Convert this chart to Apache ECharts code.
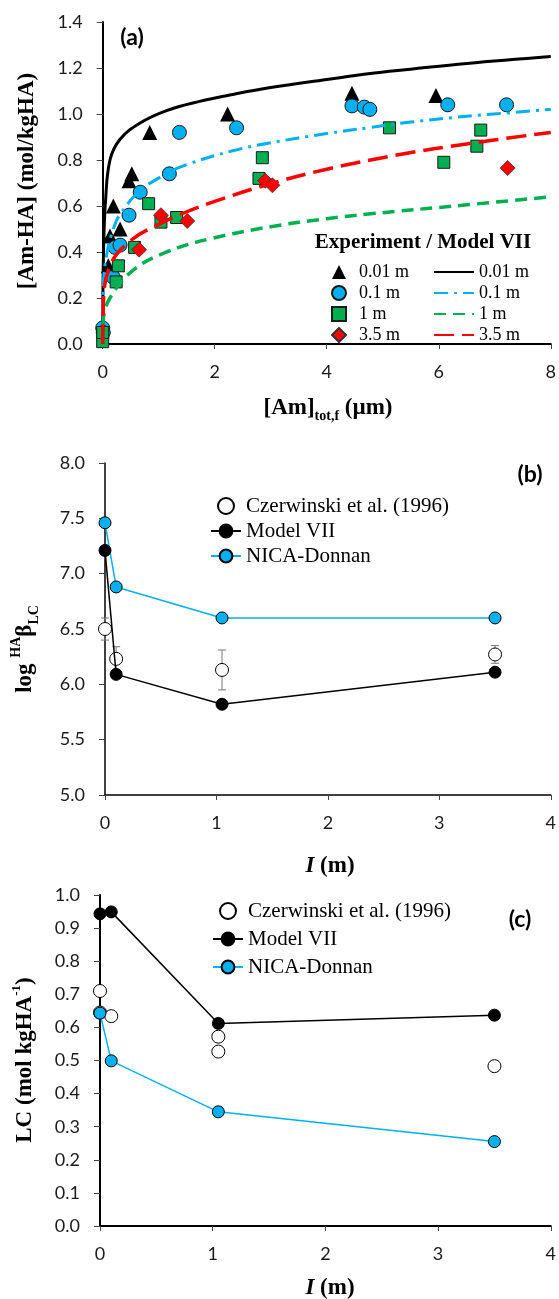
<!DOCTYPE html>
<html>
<head>
<meta charset="utf-8">
<script src="https://cdn.jsdelivr.net/npm/echarts@6/dist/echarts.min.js"></script>
<style>
html, body { margin: 0; padding: 0; background: #fff; }
#main { width: 559px; height: 1299px; }
</style>
</head>
<body>
<div id="main"></div>
<script>
// panel (a): experiment points [Am]tot,f (um) vs [Am-HA] (mol/kgHA)
var exp001 = [[0.01, 0.08], [0.1, 0.34], [0.13, 0.47], [0.19, 0.6], [0.31, 0.5], [0.47, 0.71], [0.52, 0.74], [0.84, 0.92], [2.23, 1.0], [4.45, 1.09], [5.95, 1.08]];
var exp01 = [[0, 0.07], [0.01, 0.05], [0.19, 0.29], [0.22, 0.42], [0.31, 0.43], [0.47, 0.56], [0.67, 0.66], [1.19, 0.74], [1.37, 0.92], [2.39, 0.94], [4.45, 1.035], [4.67, 1.03], [4.77, 1.02], [6.16, 1.04], [7.21, 1.04]];
var exp1 = [[0, 0.01], [0, 0.05], [0.24, 0.27], [0.28, 0.34], [0.57, 0.42], [0.82, 0.61], [1.04, 0.53], [1.32, 0.55], [2.79, 0.72], [2.85, 0.81], [5.12, 0.94], [6.09, 0.79], [6.68, 0.86], [6.75, 0.93]];
var exp35 = [[0.65, 0.41], [1.04, 0.56], [1.51, 0.535], [2.9, 0.71], [3.03, 0.69], [7.23, 0.765]];

// panel (a): Model VII curves
var mod001 = [[0, 0], [0.005, 0.25], [0.02, 0.45], [0.05, 0.62], [0.13, 0.8], [0.31, 0.89], [0.66, 0.96], [1.14, 1.015], [1.73, 1.055], [2.32, 1.085], [3.0, 1.115], [4.0, 1.15], [4.74, 1.175], [5.5, 1.195], [6.5, 1.22], [8, 1.25]];
var mod01 = [[0, 0], [0.01, 0.25], [0.08, 0.4], [0.19, 0.5], [0.3, 0.56], [0.66, 0.665], [1.1, 0.735], [1.5, 0.78], [2.32, 0.84], [3.0, 0.875], [4.0, 0.915], [4.74, 0.94], [5.5, 0.965], [6.5, 0.99], [8, 1.02]];
var mod1 = [[0, 0], [0.01, 0.1], [0.13, 0.2], [0.54, 0.32], [1.14, 0.4], [1.96, 0.46], [3.0, 0.51], [4.0, 0.545], [4.74, 0.565], [6.5, 0.605], [8, 0.64]];
var mod35 = [[0, 0], [0.01, 0.16], [0.13, 0.34], [0.5, 0.45], [1.0, 0.52], [1.5, 0.575], [2.0, 0.62], [2.9, 0.69], [4.0, 0.76], [5.33, 0.825], [6.5, 0.87], [8, 0.92]];

// panel (b): log beta vs I (m)
var czerB = [[0, 6.5], [0.1, 6.23], [1.05, 6.13], [3.5, 6.27]];
var czerBErr = [[0, 6.4, 6.6], [0.1, 6.12, 6.34], [1.05, 5.95, 6.31], [3.5, 6.19, 6.35]];
var modelB = [[0, 7.21], [0.1, 6.09], [1.05, 5.82], [3.5, 6.11]];
var nicaB = [[0, 7.46], [0.1, 6.88], [1.05, 6.6], [3.5, 6.6]];

// panel (c): LC vs I (m)
var czerC = [[0, 0.71], [0, 0.645], [0.1, 0.634], [1.05, 0.572], [1.05, 0.527], [3.5, 0.483]];
var modelC = [[0, 0.943], [0.1, 0.949], [1.05, 0.612], [3.5, 0.637]];
var nicaC = [[0, 0.643], [0.1, 0.499], [1.05, 0.345], [3.5, 0.255]];

var serif = '"Liberation Serif", "Times New Roman", serif';
var sans = 'Lato, "Open Sans", sans-serif';

function makeX(idx, max, interval, lw) {
    return {
        type: 'value', gridIndex: idx, min: 0, max: max, interval: interval,
        axisLine: {onZero: false, lineStyle: {color: '#000', width: lw}},
        axisTick: {inside: false, length: 5, lineStyle: {color: '#444'}},
        axisLabel: {fontFamily: sans, fontSize: 18, color: '#1a1a1a', margin: 19},
        splitLine: {show: false}
    };
}
function makeY(idx, min, max, interval, lw) {
    return {
        type: 'value', gridIndex: idx, min: min, max: max, interval: interval,
        axisLine: {show: true, onZero: false, lineStyle: {color: '#000', width: lw}},
        axisTick: {show: true, inside: false, length: 6, lineStyle: {color: '#444'}},
        axisLabel: {fontFamily: sans, fontSize: 18, color: '#1a1a1a', margin: 20,
            formatter: function (v) { return v.toFixed(1); }},
        splitLine: {show: false}
    };
}

function errorBars(xi, yi, data) {
    return {
        type: 'custom', name: 'err' + xi, xAxisIndex: xi, yAxisIndex: yi, z: 1,
        data: data,
        renderItem: function (params, api) {
            var lo = api.coord([api.value(0), api.value(1)]);
            var hi = api.coord([api.value(0), api.value(2)]);
            var st = {stroke: '#777', lineWidth: 1};
            return {type: 'group', children: [
                {type: 'line', shape: {x1: lo[0], y1: lo[1], x2: hi[0], y2: hi[1]}, style: st},
                {type: 'line', shape: {x1: lo[0] - 4, y1: lo[1], x2: lo[0] + 4, y2: lo[1]}, style: st},
                {type: 'line', shape: {x1: hi[0] - 4, y1: hi[1], x2: hi[0] + 4, y2: hi[1]}, style: st}
            ]};
        }
    };
}

var stripName = function (n) { return n.replace(/^\w+ /, ''); };

var myChart = echarts.init(document.getElementById('main'));

var option = {
    animation: false,
    backgroundColor: '#fff',
    grid: [
        {left: 102.7, top: 22, width: 450.3, height: 322},
        {left: 105, top: 463, width: 448, height: 332},
        {left: 100, top: 895, width: 453.5, height: 331}
    ],
    xAxis: [makeX(0, 8, 2, 2), makeX(1, 4, 1, 1.5), makeX(2, 4, 1, 2)],
    yAxis: [makeY(0, 0, 1.4, 0.2, 2), makeY(1, 5, 8, 0.5, 1.5), makeY(2, 0, 1, 0.1, 2)],
    legend: [
        {
            left: 326, top: 256.5, orient: 'vertical', itemWidth: 14, itemHeight: 14, itemGap: 0,
            data: ['exp 0.01 m', 'exp 0.1 m', 'exp 1 m', 'exp 3.5 m'],
            formatter: stripName,
            textStyle: {fontFamily: serif, fontSize: 18, lineHeight: 21, color: '#000', padding: [0, 0, 0, 8]}
        },
        {
            left: 428, top: 256.5, orient: 'vertical', itemWidth: 40, itemHeight: 14, itemGap: 0,
            data: [
                {name: 'mod 0.01 m', itemStyle: {opacity: 0}},
                {name: 'mod 0.1 m', itemStyle: {opacity: 0}},
                {name: 'mod 1 m', itemStyle: {opacity: 0}},
                {name: 'mod 3.5 m', itemStyle: {opacity: 0}}
            ],
            formatter: stripName,
            textStyle: {fontFamily: serif, fontSize: 18, lineHeight: 21, color: '#000'}
        },
        {
            left: 205, top: 488.5, orient: 'vertical', itemWidth: 30, itemHeight: 16, itemGap: 0,
            data: ['Czerwinski et al. (1996)', 'Model VII', 'NICA-Donnan'],
            textStyle: {fontFamily: serif, fontSize: 21, lineHeight: 25, color: '#000'}
        },
        {
            left: 207, top: 892, orient: 'vertical', itemWidth: 30, itemHeight: 16, itemGap: 0,
            data: ['Czerwinski et al. (1996) ', 'Model VII ', 'NICA-Donnan '],
            textStyle: {fontFamily: serif, fontSize: 21, lineHeight: 28, color: '#000'}
        }
    ],
    graphic: [
        {type: 'text', x: 132, y: 38, style: {text: '(a)', font: 'bold 23px ' + sans, fill: '#000', align: 'center', verticalAlign: 'middle'}},
        {type: 'text', x: 530, y: 475, style: {text: '(b)', font: 'bold 23px ' + sans, fill: '#000', align: 'center', verticalAlign: 'middle'}},
        {type: 'text', x: 520, y: 920, style: {text: '(c)', font: 'bold 23px ' + sans, fill: '#000', align: 'center', verticalAlign: 'middle'}},
        {type: 'text', x: 423, y: 243, style: {text: 'Experiment / Model VII', font: 'bold 21px ' + serif, fill: '#000', align: 'center', verticalAlign: 'middle'}},
        {type: 'text', x: 27, y: 181, rotation: Math.PI / 2,
            style: {text: '[Am-HA] (mol/kgHA)', font: 'bold 23px ' + serif, fill: '#000', align: 'center', verticalAlign: 'middle'}},
        {type: 'text', x: 328, y: 408,
            style: {text: '{b|[Am]}{d|tot,f}{b| (\u00b5m)}', align: 'center', verticalAlign: 'middle',
                rich: {
                    b: {font: 'bold 23px ' + serif, fill: '#000', lineHeight: 30, verticalAlign: 'middle'},
                    d: {font: 'bold 14px ' + serif, fill: '#000', lineHeight: 30, verticalAlign: 'bottom'}
                }}},
        {type: 'text', x: 25, y: 649, rotation: Math.PI / 2,
            style: {text: '{b|log }{s|HA}{b|\u03b2}{d|LC}', align: 'center', verticalAlign: 'middle',
                rich: {
                    b: {font: 'bold 23px ' + serif, fill: '#000', lineHeight: 32, verticalAlign: 'middle'},
                    s: {font: 'bold 14px ' + serif, fill: '#000', lineHeight: 32, verticalAlign: 'top'},
                    d: {font: 'bold 14px ' + serif, fill: '#000', lineHeight: 32, verticalAlign: 'bottom'}
                }}},
        {type: 'text', x: 330, y: 866,
            style: {text: '{i|I}{b| (m)}', align: 'center', verticalAlign: 'middle',
                rich: {
                    i: {font: 'italic bold 23px ' + serif, fill: '#000'},
                    b: {font: 'bold 23px ' + serif, fill: '#000'}
                }}},
        {type: 'text', x: 25, y: 1060, rotation: Math.PI / 2,
            style: {text: '{b|LC (mol kgHA}{s|-1}{b|)}', align: 'center', verticalAlign: 'middle',
                rich: {
                    b: {font: 'bold 23px ' + serif, fill: '#000', lineHeight: 30, verticalAlign: 'middle'},
                    s: {font: 'bold 13px ' + serif, fill: '#000', lineHeight: 30, verticalAlign: 'top'}
                }}},
        {type: 'text', x: 330, y: 1288,
            style: {text: '{i|I}{b| (m)}', align: 'center', verticalAlign: 'middle',
                rich: {
                    i: {font: 'italic bold 23px ' + serif, fill: '#000'},
                    b: {font: 'bold 23px ' + serif, fill: '#000'}
                }}}
    ],
    series: [
        // (a) model lines
        {name: 'mod 0.01 m', type: 'line', xAxisIndex: 0, yAxisIndex: 0, data: mod001, symbol: 'none', smooth: 0.4,
            lineStyle: {color: '#000', width: 3}, itemStyle: {color: '#000'}},
        {name: 'mod 0.1 m', type: 'line', xAxisIndex: 0, yAxisIndex: 0, data: mod01, symbol: 'none', smooth: 0.4,
            lineStyle: {color: '#00b0f0', width: 3, type: [14, 6, 3, 6]}, itemStyle: {color: '#00b0f0'}},
        {name: 'mod 1 m', type: 'line', xAxisIndex: 0, yAxisIndex: 0, data: mod1, symbol: 'none', smooth: 0.4,
            lineStyle: {color: '#00b050', width: 3.5, type: [12, 7]}, itemStyle: {color: '#00b050'}},
        {name: 'mod 3.5 m', type: 'line', xAxisIndex: 0, yAxisIndex: 0, data: mod35, symbol: 'none', smooth: 0.4,
            lineStyle: {color: '#ff0000', width: 3.5, type: [20, 8]}, itemStyle: {color: '#ff0000'}},
        // (a) experiment points
        {name: 'exp 0.01 m', type: 'scatter', xAxisIndex: 0, yAxisIndex: 0, data: exp001, symbol: 'triangle', symbolSize: 15,
            itemStyle: {color: '#000', opacity: 1}},
        {name: 'exp 0.1 m', type: 'scatter', xAxisIndex: 0, yAxisIndex: 0, data: exp01, symbol: 'circle', symbolSize: 14,
            itemStyle: {color: '#00b0f0', borderColor: '#1a1a1a', borderWidth: 1, opacity: 1}},
        {name: 'exp 1 m', type: 'scatter', xAxisIndex: 0, yAxisIndex: 0, data: exp1, symbol: 'rect', symbolSize: 12,
            itemStyle: {color: '#00b050', borderColor: '#1a1a1a', borderWidth: 1, opacity: 1}},
        {name: 'exp 3.5 m', type: 'scatter', xAxisIndex: 0, yAxisIndex: 0, data: exp35, symbol: 'diamond', symbolSize: 15,
            itemStyle: {color: '#ff0000', borderColor: '#333', borderWidth: 0.8, opacity: 1}},

        // (b)
        errorBars(1, 1, czerBErr),
        {name: 'NICA-Donnan', type: 'line', xAxisIndex: 1, yAxisIndex: 1, data: nicaB, symbol: 'circle', symbolSize: 12,
            lineStyle: {color: '#00b0f0', width: 1.5}, itemStyle: {color: '#00b0f0', borderColor: '#000', borderWidth: 1}},
        {name: 'Model VII', type: 'line', xAxisIndex: 1, yAxisIndex: 1, data: modelB, symbol: 'circle', symbolSize: 12,
            lineStyle: {color: '#000', width: 1.5}, itemStyle: {color: '#000', borderColor: '#000', borderWidth: 1}},
        {name: 'Czerwinski et al. (1996)', type: 'scatter', xAxisIndex: 1, yAxisIndex: 1, data: czerB, symbol: 'circle', symbolSize: 13,
            itemStyle: {color: '#fff', borderColor: '#000', borderWidth: 1, opacity: 1}},

        // (c)
        {name: 'NICA-Donnan ', type: 'line', xAxisIndex: 2, yAxisIndex: 2, data: nicaC, symbol: 'circle', symbolSize: 12,
            lineStyle: {color: '#00b0f0', width: 1.5}, itemStyle: {color: '#00b0f0', borderColor: '#000', borderWidth: 1}},
        {name: 'Model VII ', type: 'line', xAxisIndex: 2, yAxisIndex: 2, data: modelC, symbol: 'circle', symbolSize: 12,
            lineStyle: {color: '#000', width: 1.5}, itemStyle: {color: '#000', borderColor: '#000', borderWidth: 1}},
        {name: 'Czerwinski et al. (1996) ', type: 'scatter', xAxisIndex: 2, yAxisIndex: 2, data: czerC, symbol: 'circle', symbolSize: 13,
            itemStyle: {color: '#fff', borderColor: '#000', borderWidth: 1, opacity: 1}}
    ]
};

myChart.setOption(option);
</script>
</body>
</html>
